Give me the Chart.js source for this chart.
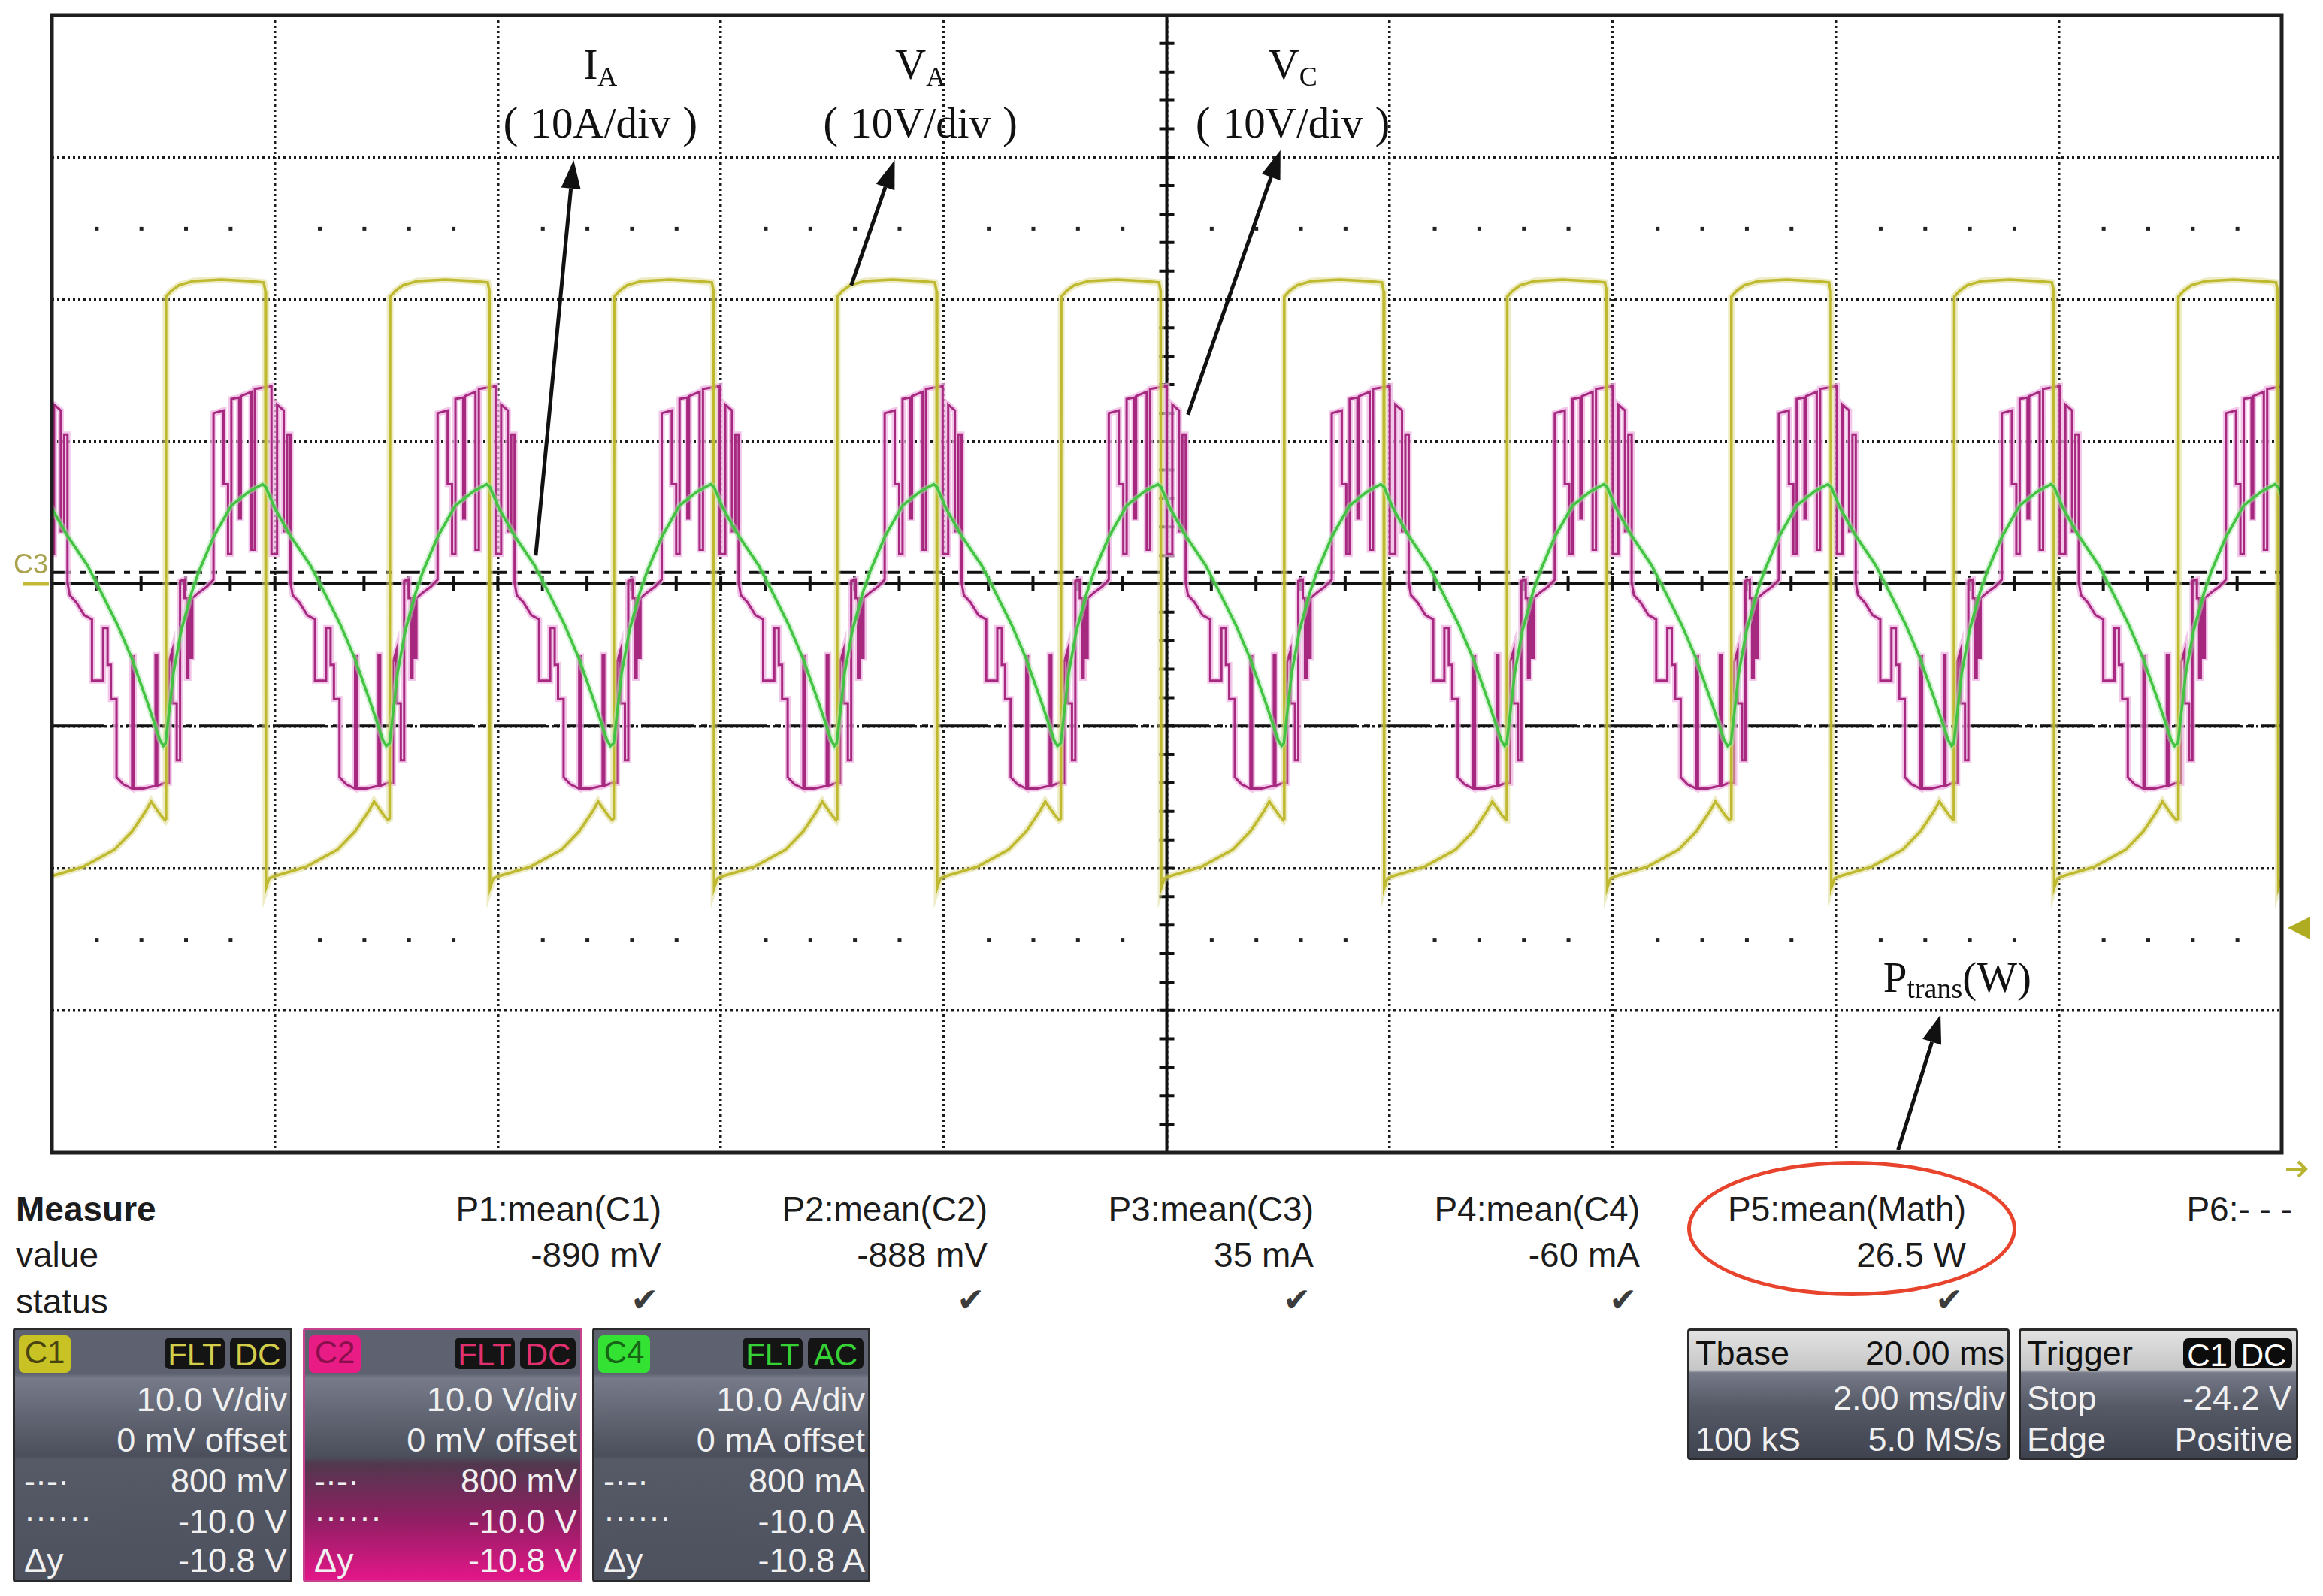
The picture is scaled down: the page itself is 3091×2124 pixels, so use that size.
<!DOCTYPE html>
<html>
<head>
<meta charset="utf-8">
<script src="https://cdn.jsdelivr.net/npm/chart.js@4.4.1/dist/chart.umd.min.js"></script>
<style>
body{margin:0;background:#fff;width:3091px;height:2124px;overflow:hidden;position:relative;font-family:"Liberation Sans",Arial,sans-serif;}
#pantalla{position:absolute;left:0;top:0;width:3091px;height:1580px;}
.txt{position:absolute;font-size:46px;line-height:46px;color:#1c1c1c;white-space:nowrap;}
.chk{position:absolute;font-family:"DejaVu Sans";font-size:44px;line-height:44px;color:#3c3c3c;}
.caja{position:absolute;top:1767px;width:372px;height:339px;border:3px solid #2a2a2a;border-radius:4px;box-sizing:border-box;overflow:hidden;color:#f0f0f0;
 background:linear-gradient(to bottom,#5d6170 0px,#5d6170 58px,#777b89 64px,#4b4f5c 168px,#565a67 172px,#4d515d 339px);}
.caja .f{position:absolute;font-size:45px;line-height:45px;white-space:nowrap;}
.chip{position:absolute;border-radius:7px;font-size:42px;line-height:46px;text-align:center;}
.caja2{position:absolute;top:1768px;height:175px;border:3px solid #2a2a2a;border-radius:4px;box-sizing:border-box;overflow:hidden;color:#f0f0f0;
 background:linear-gradient(to bottom,#e2e2e2 0px,#c6c6c6 52px,#767a88 56px,#565a67 100px,#3d414d 175px);}
.caja2 .f{position:absolute;font-size:45px;line-height:45px;white-space:nowrap;}
#elipse{position:absolute;left:2245px;top:1545px;width:438px;height:180px;border:5px solid #e8432c;border-radius:50%;box-sizing:border-box;}
</style>
</head>
<body>
<div id="pantalla"><canvas id="grafica"></canvas></div>

<div class="txt" style="left:21px;top:1586px;font-weight:bold;">Measure</div>
<div class="txt" style="left:21px;top:1647px;">value</div>
<div class="txt" style="left:21px;top:1709px;">status</div>
<div id="medidas"></div>

<div class="caja" style="left:17px;">
  <div class="chip" style="left:5px;top:7px;width:69px;height:50px;background:#c9c224;color:#4a4510;">C1</div>
  <div class="chip" style="left:199px;top:10px;width:80px;height:42px;background:#141414;color:#d3cd4a;">FLT</div>
  <div class="chip" style="left:286px;top:10px;width:74px;height:42px;background:#141414;color:#d3cd4a;">DC</div>
  <div class="f" style="right:4px;top:70px;">10.0 V/div</div>
  <div class="f" style="right:4px;top:124px;">0 mV offset</div>
  <div class="f" style="left:12px;top:178px;">-·-·</div>
  <div class="f" style="right:4px;top:178px;">800 mV</div>
  <div class="f" style="left:12px;top:226px;">······</div>
  <div class="f" style="right:4px;top:232px;">-10.0 V</div>
  <div class="f" style="left:12px;top:284px;">Δy</div>
  <div class="f" style="right:4px;top:284px;">-10.8 V</div>
</div>
<div class="caja" style="left:403px;border-color:#c8418e;background:linear-gradient(to bottom,#5d6170 0px,#5d6170 58px,#777b89 64px,#4b4f5c 168px,#51384e 178px,#8e1f62 250px,#e6168a 335px);">
  <div class="chip" style="left:5px;top:7px;width:69px;height:50px;background:#e81c84;color:#8a0f4c;">C2</div>
  <div class="chip" style="left:199px;top:10px;width:80px;height:42px;background:#141414;color:#e0306e;">FLT</div>
  <div class="chip" style="left:286px;top:10px;width:74px;height:42px;background:#141414;color:#e0306e;">DC</div>
  <div class="f" style="right:4px;top:70px;">10.0 V/div</div>
  <div class="f" style="right:4px;top:124px;">0 mV offset</div>
  <div class="f" style="left:12px;top:178px;">-·-·</div>
  <div class="f" style="right:4px;top:178px;">800 mV</div>
  <div class="f" style="left:12px;top:226px;">······</div>
  <div class="f" style="right:4px;top:232px;">-10.0 V</div>
  <div class="f" style="left:12px;top:284px;">Δy</div>
  <div class="f" style="right:4px;top:284px;">-10.8 V</div>
</div>
<div class="caja" style="left:788px;width:370px;">
  <div class="chip" style="left:5px;top:7px;width:69px;height:50px;background:#34e234;color:#176617;">C4</div>
  <div class="chip" style="left:197px;top:10px;width:80px;height:42px;background:#141414;color:#36d236;">FLT</div>
  <div class="chip" style="left:284px;top:10px;width:74px;height:42px;background:#141414;color:#36d236;">AC</div>
  <div class="f" style="right:4px;top:70px;">10.0 A/div</div>
  <div class="f" style="right:4px;top:124px;">0 mA offset</div>
  <div class="f" style="left:12px;top:178px;">-·-·</div>
  <div class="f" style="right:4px;top:178px;">800 mA</div>
  <div class="f" style="left:12px;top:226px;">······</div>
  <div class="f" style="right:4px;top:232px;">-10.0 A</div>
  <div class="f" style="left:12px;top:284px;">Δy</div>
  <div class="f" style="right:4px;top:284px;">-10.8 A</div>
</div>

<div class="caja2" style="left:2245px;width:429px;">
  <div class="f" style="left:8px;top:7px;color:#111;">Tbase</div>
  <div class="f" style="right:4px;top:7px;color:#111;">20.00 ms</div>
  <div class="f" style="right:2px;top:67px;">2.00 ms/div</div>
  <div class="f" style="left:8px;top:122px;">100 kS</div>
  <div class="f" style="right:8px;top:122px;">5.0 MS/s</div>
</div>
<div class="caja2" style="left:2686px;width:372px;">
  <div class="f" style="left:8px;top:7px;color:#111;">Trigger</div>
  <div class="chip" style="left:216px;top:10px;width:64px;height:40px;background:#0c0c0c;color:#fff;">C1</div>
  <div class="chip" style="left:285px;top:10px;width:76px;height:40px;background:#0c0c0c;color:#fff;">DC</div>
  <div class="f" style="left:8px;top:67px;">Stop</div>
  <div class="f" style="right:6px;top:67px;">-24.2 V</div>
  <div class="f" style="left:8px;top:122px;">Edge</div>
  <div class="f" style="right:4px;top:122px;">Positive</div>
</div>
<div id="elipse"></div>

<script>
// inicio de cada ciclo (flanco de subida de VA), en ms
var inicioCiclos = [-0.98, 1.02, 3.03, 5.04, 7.04, 9.05, 11.05, 13.05, 15.06, 17.06, 19.07];

var faseVA = [0.000, 0.004, 0.05, 0.12, 0.25, 0.50, 0.75, 0.88, 0.895, 0.900, 0.93, 1.00, 1.26, 1.54, 1.70, 1.82, 1.87, 1.96, 1.995];
var valorVA = [-16.5, 20.2, 20.6, 21.0, 21.3, 21.4, 21.3, 21.2, 20.6, -21.4, -20.7, -20.5, -19.9, -18.7, -17.4, -16.0, -15.3, -16.3, -16.6];

// IA (C4, 10 A/div)
var faseIA = [0.00, 0.07, 0.14, 0.23, 0.30, 0.43, 0.59, 0.75, 0.87, 0.90, 0.98, 1.11, 1.30, 1.43, 1.57, 1.70, 1.84, 1.95, 1.98];
var valorIA = [-11.2, -6.3, -3.3, -0.7, 0.9, 3.3, 5.5, 6.5, 7.0, 6.8, 5.3, 3.5, 1.3, -0.7, -2.9, -5.3, -8.4, -11.0, -11.4];

// VC (C2, 10 V/div), escalones multinivel
var faseVC = [0.000, 0.030, 0.030, 0.060, 0.060, 0.100, 0.100, 0.130, 0.130, 0.170, 0.170, 0.190, 0.190, 0.205, 0.205, 0.225, 0.225, 0.240, 0.240, 0.300, 0.370, 0.430,
  0.430, 0.520, 0.520, 0.560, 0.560, 0.590, 0.590, 0.660, 0.660, 0.675, 0.675, 0.770, 0.770, 0.800, 0.800, 0.950, 0.950, 1.000, 1.000, 1.060, 1.060, 1.090, 1.090, 1.120, 1.120,
  1.140, 1.200, 1.270, 1.340, 1.340, 1.440, 1.440, 1.480, 1.480, 1.510, 1.510, 1.560, 1.560, 1.620, 1.700, 1.700, 1.715, 1.715, 1.800, 1.910, 1.910, 1.925, 1.925, 1.995];
var valorVC = [-14.0, -14.0, -5.5, -4.7, -8.4, -8.4, -12.4, -12.4, 0.2, 0.3, -1.0, -1.0, -6.6, -6.6, -1.0, -1.0, -5.2, -5.2, -1.0, -0.6, -0.2, 0.3,
  12.0, 12.2, 7.0, 7.0, 2.1, 2.1, 13.0, 13.1, 4.6, 4.6, 13.2, 13.5, 2.4, 2.4, 13.7, 13.9, 2.1, 2.1, 12.6, 12.2, 3.7, 3.7, 10.5, 10.5, 0.1,
  -0.8, -1.3, -2.2, -2.5, -6.8, -6.8, -3.1, -3.1, -5.7, -5.7, -8.1, -8.1, -13.6, -14.1, -14.4, -5.1, -5.1, -14.4, -14.4, -14.2, -5.0, -5.0, -14.2, -14.0];

// cursores y disparo
var cursorGuion = 0.8;
var cursorPunto = -10.0;
var nivelDisparo = -24.2;

// tabla de medidas
var nombresMedida = ["P1:mean(C1)", "P2:mean(C2)", "P3:mean(C3)", "P4:mean(C4)", "P5:mean(Math)", "P6:- - -"];
var valoresMedida = ["-890 mV", "-888 mV", "35 mA", "-60 mA", "26.5 W", ""];
var estadoMedida = [true, true, true, true, true, false];

var SERIF = '"Liberation Serif"';

function construirTraza(fases, valores) {
    var puntos = [];
    for (var c = 0; c < inicioCiclos.length; c++) {
        for (var i = 0; i < fases.length; i++) {
            puntos.push({x: inicioCiclos[c] + fases[i], y: valores[i]});
        }
    }
    return puntos;
}

function flecha(ctx, x1, y1, x2, y2) {
    var ang = Math.atan2(y2 - y1, x2 - x1);
    var largo = 38, ancho = 13;
    var bx = x2 - largo * Math.cos(ang), by = y2 - largo * Math.sin(ang);
    ctx.beginPath();
    ctx.moveTo(x1, y1);
    ctx.lineTo(bx, by);
    ctx.stroke();
    ctx.beginPath();
    ctx.moveTo(x2, y2);
    ctx.lineTo(bx + ancho * Math.sin(ang), by - ancho * Math.cos(ang));
    ctx.lineTo(bx - ancho * Math.sin(ang), by + ancho * Math.cos(ang));
    ctx.closePath();
    ctx.fill();
}

// piezas: [texto, tamaño, desplazamiento vertical]
function textoCompuesto(ctx, piezas, cx, by) {
    var total = 0;
    piezas.forEach(function (p) {
        ctx.font = p[1] + 'px ' + SERIF;
        p.w = ctx.measureText(p[0]).width;
        total += p.w;
    });
    var x = cx - total / 2;
    piezas.forEach(function (p) {
        ctx.font = p[1] + 'px ' + SERIF;
        ctx.fillText(p[0], x, by + p[2]);
        x += p.w;
    });
}

var pluginPantalla = {
    id: 'pantalla',
    beforeDatasetsDraw: function (chart) {
        var ctx = chart.ctx, sx = chart.scales.x, sy = chart.scales.y, a = chart.chartArea;
        ctx.save();
        // filas de puntos a +-2.5 div
        ctx.fillStyle = '#222';
        [25, -25].forEach(function (v) {
            var py = sy.getPixelForValue(v);
            for (var i = 1; i < 50; i++) {
                if (i % 5 == 0) continue;
                ctx.fillRect(sx.getPixelForValue(i * 0.4) - 2, py - 2, 5, 5);
            }
        });
        // ejes centrales con marcas
        ctx.strokeStyle = '#111';
        ctx.lineWidth = 4;
        var y0 = sy.getPixelForValue(0), x0 = sx.getPixelForValue(10);
        ctx.beginPath();
        ctx.moveTo(a.left, y0); ctx.lineTo(a.right, y0);
        ctx.moveTo(x0, a.top); ctx.lineTo(x0, a.bottom);
        for (var i = 1; i < 50; i++) {
            var px = sx.getPixelForValue(i * 0.4);
            ctx.moveTo(px, y0 - 10); ctx.lineTo(px, y0 + 10);
        }
        for (var j = -19; j <= 19; j++) {
            var py = sy.getPixelForValue(j * 2);
            ctx.moveTo(x0 - 10, py); ctx.lineTo(x0 + 10, py);
        }
        ctx.stroke();
        // cursores
        ctx.lineWidth = 4;
        ctx.setLineDash([26, 12, 8, 12]);
        ctx.beginPath();
        ctx.moveTo(a.left, sy.getPixelForValue(cursorGuion)); ctx.lineTo(a.right, sy.getPixelForValue(cursorGuion));
        ctx.stroke();
        ctx.setLineDash([70, 10, 8, 10]);
        ctx.beginPath();
        ctx.moveTo(a.left, sy.getPixelForValue(cursorPunto)); ctx.lineTo(a.right, sy.getPixelForValue(cursorPunto));
        ctx.stroke();
        ctx.restore();
    },
    afterDatasetsDraw: function (chart) {
        var ctx = chart.ctx, sx = chart.scales.x, sy = chart.scales.y, a = chart.chartArea;
        ctx.save();
        // marco
        ctx.strokeStyle = '#1e1e1e';
        ctx.lineWidth = 5;
        ctx.strokeRect(a.left, a.top, a.right - a.left, a.bottom - a.top);
        // marcador C3 a la izquierda
        var y0 = sy.getPixelForValue(0);
        ctx.fillStyle = '#aaa24c';
        ctx.font = '36px "Liberation Sans"';
        ctx.textBaseline = 'alphabetic';
        ctx.fillText('C3', 18, y0 - 14);
        ctx.strokeStyle = '#c2ba36';
        ctx.lineWidth = 5;
        ctx.beginPath(); ctx.moveTo(30, y0); ctx.lineTo(a.left - 4, y0); ctx.stroke();
        // nivel de disparo a la derecha
        var yd = sy.getPixelForValue(nivelDisparo);
        ctx.fillStyle = '#b0ac22';
        ctx.beginPath();
        ctx.moveTo(a.right + 8, yd); ctx.lineTo(a.right + 38, yd - 15); ctx.lineTo(a.right + 38, yd + 15);
        ctx.closePath(); ctx.fill();
        // flecha de tiempo abajo a la derecha
        ctx.strokeStyle = '#b8b430';
        ctx.lineWidth = 4;
        ctx.beginPath();
        ctx.moveTo(a.right + 6, a.bottom + 22); ctx.lineTo(a.right + 32, a.bottom + 22);
        ctx.moveTo(a.right + 22, a.bottom + 12); ctx.lineTo(a.right + 32, a.bottom + 22); ctx.lineTo(a.right + 22, a.bottom + 32);
        ctx.stroke();
        // anotaciones
        ctx.fillStyle = '#111';
        ctx.strokeStyle = '#111';
        ctx.lineWidth = 5;
        var etiquetas = [
            {x: 4.92, p: [['I', 57, 0], ['A', 36, 9]], u: '10A/div', cola: [4.34, 2.0], punta: [4.68, 29.8]},
            {x: 7.79, p: [['V', 57, 0], ['A', 36, 9]], u: '10V/div', cola: [7.17, 21.0], punta: [7.56, 29.8]},
            {x: 11.13, p: [['V', 57, 0], ['C', 36, 9]], u: '10V/div', cola: [10.19, 11.9], punta: [11.02, 30.5]}
        ];
        etiquetas.forEach(function (e) {
            var cx = sx.getPixelForValue(e.x);
            textoCompuesto(ctx, e.p, cx, sy.getPixelForValue(35.5));
            textoCompuesto(ctx, [['(', 60, 0], [' ', 64, 0], [e.u, 57, 0], [' ', 64, 0], [')', 60, 0]], cx, sy.getPixelForValue(31.4));
            flecha(ctx, sx.getPixelForValue(e.cola[0]), sy.getPixelForValue(e.cola[1]),
                sx.getPixelForValue(e.punta[0]), sy.getPixelForValue(e.punta[1]));
        });
        textoCompuesto(ctx, [['P', 57, 0], ['trans', 38, 8], ['(W)', 57, 0]], sx.getPixelForValue(17.09), sy.getPixelForValue(-28.7));
        flecha(ctx, sx.getPixelForValue(16.56), sy.getPixelForValue(-39.8), sx.getPixelForValue(16.94), sy.getPixelForValue(-30.3));
        ctx.restore();
    }
};

function crearGraficaOsciloscopio() {
    var ctx = document.getElementById('grafica').getContext('2d');
    var estilo = {showLine: true, pointRadius: 0, tension: 0, fill: false, clip: 0};

    var data = {
        datasets: [
            Object.assign({label: 'IA', data: construirTraza(faseIA, valorIA), borderColor: '#42c442', borderWidth: 3.5}, estilo),
            Object.assign({label: 'IA halo', data: construirTraza(faseIA, valorIA), borderColor: 'rgba(170,230,170,0.5)', borderWidth: 8}, estilo),
            Object.assign({label: 'VA', data: construirTraza(faseVA, valorVA), borderColor: '#bfb930', borderWidth: 3.5}, estilo),
            Object.assign({label: 'VA halo', data: construirTraza(faseVA, valorVA), borderColor: 'rgba(222,218,140,0.5)', borderWidth: 9}, estilo),
            Object.assign({label: 'VC', data: construirTraza(faseVC, valorVC), borderColor: '#a6287f', borderWidth: 3}, estilo),
            Object.assign({label: 'VC halo', data: construirTraza(faseVC, valorVC), borderColor: 'rgba(238,180,225,0.75)', borderWidth: 8}, estilo)
        ]
    };

    var rejilla = {color: '#1c1c1c', lineWidth: 3.5, drawTicks: false};

    new Chart(ctx, {
        type: 'scatter',
        data: data,
        options: {
            responsive: true,
            maintainAspectRatio: false,
            animation: false,
            devicePixelRatio: 1,
            events: [],
            layout: {padding: {left: 69, top: 20, right: 55, bottom: 46}},
            plugins: {legend: {display: false}, tooltip: {enabled: false}},
            scales: {
                x: {type: 'linear', min: 0, max: 20, ticks: {display: false, stepSize: 2}, grid: rejilla,
                    border: {display: false, dash: [3, 4]}, afterFit: function (s) { s.height = 0; }},
                y: {type: 'linear', min: -40, max: 40, ticks: {display: false, stepSize: 10}, grid: rejilla,
                    border: {display: false, dash: [3, 4]}, afterFit: function (s) { s.width = 0; }}
            }
        },
        plugins: [pluginPantalla]
    });
}

function crearTablaMedidas() {
    var cont = document.getElementById('medidas');
    for (var i = 0; i < nombresMedida.length; i++) {
        var derecha = 3091 - (880 + i * 434);
        var nodo = document.createElement('DIV');
        nodo.className = 'txt';
        nodo.style.right = derecha + 'px';
        nodo.style.top = '1586px';
        nodo.appendChild(document.createTextNode(nombresMedida[i]));
        cont.appendChild(nodo);
        if (valoresMedida[i]) {
            var val = document.createElement('DIV');
            val.className = 'txt';
            val.style.right = derecha + 'px';
            val.style.top = '1647px';
            val.appendChild(document.createTextNode(valoresMedida[i]));
            cont.appendChild(val);
        }
        if (estadoMedida[i]) {
            var chk = document.createElement('DIV');
            chk.className = 'chk';
            chk.style.right = (derecha + 4) + 'px';
            chk.style.top = '1708px';
            chk.appendChild(document.createTextNode('✔'));
            cont.appendChild(chk);
        }
    }
}

crearTablaMedidas();
crearGraficaOsciloscopio();
</script>
</body>
</html>
